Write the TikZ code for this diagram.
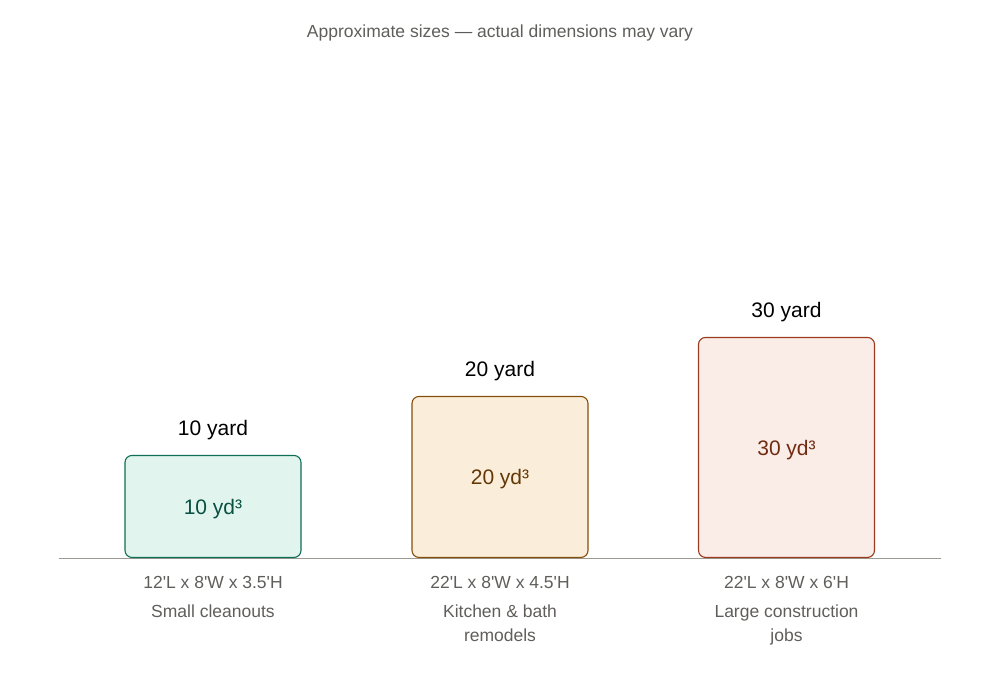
\documentclass[tikz,border=0pt]{standalone}
\usepackage{fontspec}
\newfontfamily\plainsans{Liberation Sans}
\usepackage{tikz}
\usetikzlibrary{positioning}

\definecolor{tealfill}{HTML}{E1F5EE}
\definecolor{tealline}{HTML}{0F6E56}
\definecolor{tealtext}{HTML}{085041}
\definecolor{amberfill}{HTML}{FAEEDA}
\definecolor{amberline}{HTML}{854F0B}
\definecolor{ambertext}{HTML}{633806}
\definecolor{coralfill}{HTML}{FAECE7}
\definecolor{coralline}{HTML}{993C1D}
\definecolor{coraltext}{HTML}{712B13}
\definecolor{note}{HTML}{5F5E5A}
\definecolor{ground}{HTML}{9C9A92}

\begin{document}
\begin{tikzpicture}[
        x=1pt, y=-1pt,
        bin/.style={draw, line width=1.1pt, rounded corners=7pt, anchor=south,
            minimum width=176pt, text depth=0pt, inner sep=0pt,
            font=\plainsans\fontsize{21}{25}\selectfont},
        binA/.style={bin, draw=tealline, fill=tealfill, text=tealtext, minimum height=102pt},
        binB/.style={bin, draw=amberline, fill=amberfill, text=ambertext, minimum height=161pt},
        binC/.style={bin, draw=coralline, fill=coralfill, text=coraltext, minimum height=220pt},
        size/.style={anchor=base, text=black, font=\plainsans\fontsize{21}{25}\selectfont},
        dims/.style={anchor=base, text=note, font=\plainsans\fontsize{17.5}{21}\selectfont},
        use/.style={anchor=base, text=note, align=center, font=\plainsans\fontsize{17.5}{24}\selectfont},
    ]
    \useasboundingbox (0,0) rectangle (1000,676);

    % title
    \node[dims] (title) at (500,38) {Approximate sizes — actual dimensions may vary};

    % ground
    \coordinate (gl) at (59,558);
    \coordinate (gr) at (941,558);
    \draw[ground, line width=1pt] (gl) -- (gr);

    % bins
    \node[binA] (b10) at (213,558) {10 yd³};
    \node[binB] (b20) at (500,558) {20 yd³};
    \node[binC] (b30) at (786.5,558) {30 yd³};

    % names above
    \node[size] (n10) at (213,435) {10 yard};
    \node[size] (n20) at (500,376) {20 yard};
    \node[size] (n30) at (786.5,317) {30 yard};

    % dimensions and uses
    \node[dims] (d10) at (213,588) {12'L x 8'W x 3.5'H};
    \node[dims] (d20) at (500,588) {22'L x 8'W x 4.5'H};
    \node[dims] (d30) at (786.5,588) {22'L x 8'W x 6'H};

    \node[use] (u10) at (213,617) {Small cleanouts};
    \node[use] (u20) at (500,641) {Kitchen \& bath\\remodels};
    \node[use] (u30) at (786.5,641) {Large construction\\jobs};
\end{tikzpicture}
\end{document}
